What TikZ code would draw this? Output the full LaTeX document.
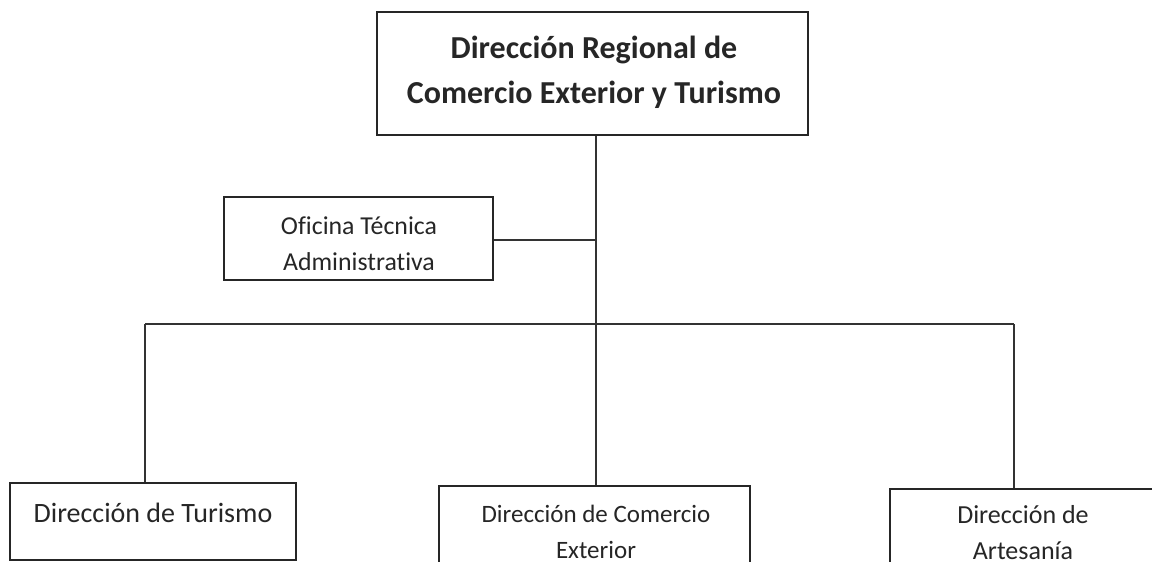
\documentclass[tikz,border=0pt]{standalone}
\usepackage{fontspec}
\setmainfont{Carlito}[Ligatures={NoCommon}]
\begin{document}
\begin{tikzpicture}[x=1pt,y=-1pt,
  box/.style={draw=black!85,line width=1.4pt,fill=white,inner sep=0pt},
  txt/.style={align=center,inner sep=0pt,text=black!85},
  conn/.style={draw=black!80,line width=1.4pt}]
\useasboundingbox (0,0) rectangle (1152,562);
\clip (0,0) rectangle (1152,562);
\fill[white] (0,0) rectangle (1152,562);
% boxes
\node[box,minimum width=431pt,minimum height=123pt] (dr) at (592.5,73.5) {};
\node[box,minimum width=269pt,minimum height=83pt] (ofi) at (358.5,238.5) {};
\node[box,minimum width=286pt,minimum height=77pt] (tur) at (153,521.5) {};
\node[box,minimum width=311pt,minimum height=90pt] (ce) at (594.5,531) {};
\node[box,minimum width=290pt,minimum height=90pt] (art) at (1035,534) {};
% texts
\node[txt,font=\fontsize{32}{45}\selectfont\bfseries] (drt) at (594,72) {Dirección Regional de\\Comercio Exterior y Turismo};
\node[txt,font=\fontsize{25.8}{36}\selectfont] (ofit) at (359,244) {Oficina Técnica\\Administrativa};
\node[txt,font=\fontsize{28}{36}\selectfont] (turt) at (153,513) {Dirección de Turismo};
\node[txt,font=\fontsize{25}{36}\selectfont] (cet) at (596,532) {Dirección de Comercio\\Exterior};
\node[txt,font=\fontsize{26}{36}\selectfont] (artt) at (1023,533) {Dirección de\\Artesanía};
% connectors
\coordinate (j1) at (596,240);
\coordinate (j2) at (596,324);
\coordinate (bl) at (145,324);
\coordinate (br) at (1014,324);
\draw[conn] (dr.south -| j1) -- (j1) -- (j2) -- (ce.north -| j2);
\draw[conn] (ofi.east |- j1) -- (j1);
\draw[conn] (bl) -- (br);
\draw[conn] (bl) -- (tur.north -| bl);
\draw[conn] (br) -- (art.north -| br);
\end{tikzpicture}
\end{document}
